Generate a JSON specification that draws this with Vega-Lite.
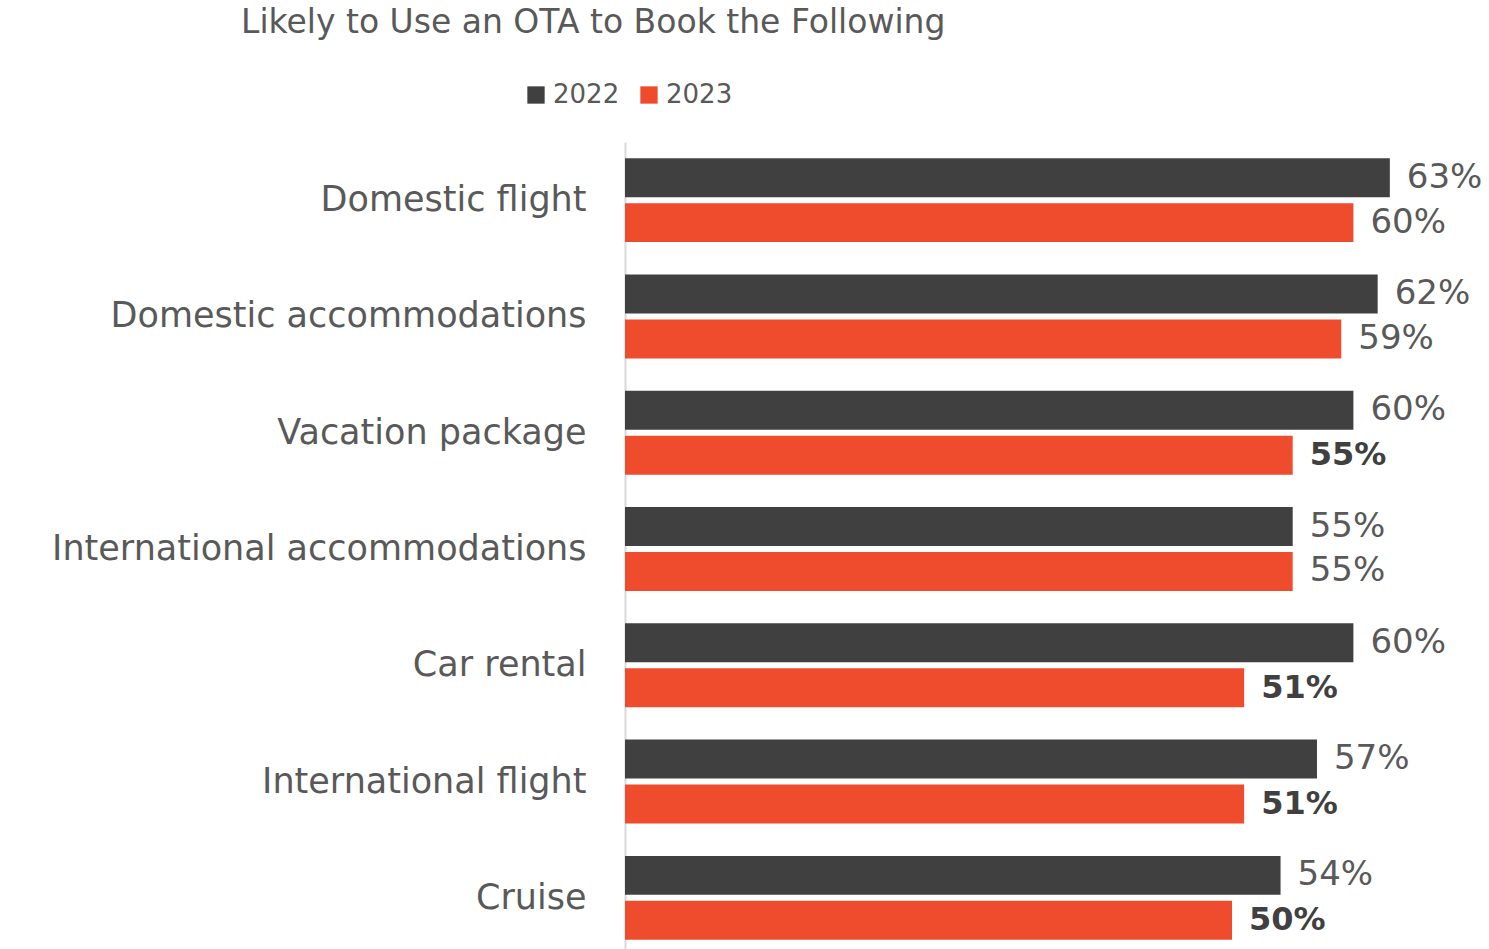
{
  "$schema": "https://vega.github.io/schema/vega-lite/v6.json",
  "width": 864,
  "height": 814,
  "autosize": "none",
  "padding": {"left": 625, "top": 142, "right": 0, "bottom": 0},
  "background": "white",
  "config": {"view": {"stroke": null}, "font": "DejaVu Sans"},
  "title": {
    "text": "Likely to Use an OTA to Book the Following",
    "anchor": "start",
    "frame": "group",
    "dx": -384,
    "offset": 42,
    "fontSize": 33,
    "fontWeight": "normal",
    "color": "#595959",
    "font": "DejaVu Sans"
  },
  "data": {
    "values": [
      {"category": "Domestic flight", "year": "2022", "value": 0.63, "highlight": false},
      {"category": "Domestic flight", "year": "2023", "value": 0.60, "highlight": false},
      {"category": "Domestic accommodations", "year": "2022", "value": 0.62, "highlight": false},
      {"category": "Domestic accommodations", "year": "2023", "value": 0.59, "highlight": false},
      {"category": "Vacation package", "year": "2022", "value": 0.60, "highlight": false},
      {"category": "Vacation package", "year": "2023", "value": 0.55, "highlight": true},
      {"category": "International accommodations", "year": "2022", "value": 0.55, "highlight": false},
      {"category": "International accommodations", "year": "2023", "value": 0.55, "highlight": false},
      {"category": "Car rental", "year": "2022", "value": 0.60, "highlight": false},
      {"category": "Car rental", "year": "2023", "value": 0.51, "highlight": true},
      {"category": "International flight", "year": "2022", "value": 0.57, "highlight": false},
      {"category": "International flight", "year": "2023", "value": 0.51, "highlight": true},
      {"category": "Cruise", "year": "2022", "value": 0.54, "highlight": false},
      {"category": "Cruise", "year": "2023", "value": 0.50, "highlight": true}
    ]
  },
  "encoding": {
    "y": {
      "field": "category",
      "type": "nominal",
      "sort": ["Domestic flight", "Domestic accommodations", "Vacation package", "International accommodations", "Car rental", "International flight", "Cruise"],
      "scale": {"paddingInner": 0.278, "paddingOuter": 0.139},
      "axis": {
        "title": null,
        "ticks": false,
        "domain": true,
        "domainColor": "#d9d9d9",
        "domainWidth": 2,
        "labelPadding": 39,
        "labelFontSize": 35,
        "labelFontWeight": "normal",
        "labelColor": "#595959",
        "labelFont": "DejaVu Sans",
        "labelLimit": 700
      }
    },
    "yOffset": {
      "field": "year",
      "type": "nominal",
      "scale": {"paddingInner": 0.133, "paddingOuter": 0}
    },
    "x": {
      "field": "value",
      "type": "quantitative",
      "scale": {"domain": [0, 0.7117], "nice": false},
      "axis": null
    }
  },
  "layer": [
    {
      "mark": {"type": "bar"},
      "encoding": {
        "color": {
          "field": "year",
          "type": "nominal",
          "scale": {"domain": ["2022", "2023"], "range": ["#404040", "#EF4B2D"]},
          "legend": {
            "title": null,
            "orient": "none",
            "direction": "horizontal",
            "legendX": -102,
            "legendY": -60,
            "symbolType": "square",
            "symbolSize": 300,
            "symbolStrokeWidth": 0,
            "labelFontSize": 26,
            "labelFontWeight": "normal",
            "labelColor": "#595959",
            "labelFont": "DejaVu Sans",
            "labelOffset": 4,
            "columnPadding": 16
          }
        }
      }
    },
    {
      "transform": [{"filter": "!datum.highlight"}],
      "mark": {"type": "text", "align": "left", "baseline": "middle", "dx": 17, "fontSize": 34, "font": "DejaVu Sans", "fontWeight": "normal", "color": "#595959"},
      "encoding": {
        "text": {"field": "value", "type": "quantitative", "format": ".0%"}
      }
    },
    {
      "transform": [{"filter": "datum.highlight"}],
      "mark": {"type": "text", "align": "left", "baseline": "middle", "dx": 17, "fontSize": 32, "font": "DejaVu Sans", "fontWeight": "bold", "color": "#404040"},
      "encoding": {
        "text": {"field": "value", "type": "quantitative", "format": ".0%"}
      }
    }
  ]
}
